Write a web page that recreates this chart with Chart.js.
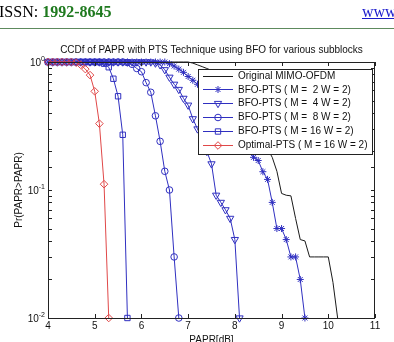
<!DOCTYPE html>
<html>
<head>
<meta charset="utf-8">
<script src="https://cdn.jsdelivr.net/npm/chart.js@4/dist/chart.umd.min.js"></script>
<style>
  html, body { margin:0; padding:0; background:#fff; width:394px; height:342px; overflow:hidden; }
  #wrap { position:relative; width:394px; height:342px; }
  canvas { position:absolute; left:0; top:0; }
  .hdr { position:absolute; top:2px; font-family:"Liberation Serif","Times New Roman",serif; font-size:16px; line-height:20px; white-space:nowrap; }
  #issn { left:-1px; color:#000; }
  #issn b { color:#1f7a1f; }
  #www { left:362px; color:#1a1acc; text-decoration:underline; }
  #rule { position:absolute; left:0; top:28px; width:394px; height:1px; background:#5d8a5d; }
</style>
</head>
<body>
<div id="wrap">
  <canvas id="c" width="394" height="342"></canvas>
  <div class="hdr" id="issn">ISSN: <b>1992-8645</b></div>
  <div class="hdr" id="www">www</div>
  <div id="rule"></div>
</div>
<script>
// ---- data ----
const papr = [4.0,4.1,4.2,4.3,4.4,4.5,4.6,4.7,4.8,4.9,
              5.0,5.1,5.2,5.3,5.4,5.5,5.6,5.7,5.8,5.9,
              6.0,6.1,6.2,6.3,6.4,6.5,6.6,6.7,6.8,6.9,
              7.0,7.1,7.2,7.3,7.4,7.5,7.6,7.7,7.8,7.9,
              8.0,8.1,8.2,8.3,8.4,8.5,8.6,8.7,8.8,8.9,
              9.0,9.1,9.2,9.3,9.4,9.5,9.6,9.7,9.8,9.9,
              10.0,10.1,10.2];

const original = [1,1,1,1,1,1,1,1,1,1,
                  1,1,1,1,1,1,1,1,1,1,
                  1,1,1,1,1,1,1,1,1,1,
                  1,0.98,0.95,0.92,0.89,0.86,0.81,0.76,0.71,0.65,
                  0.59,0.53,0.47,0.41,0.35,0.30,0.25,0.21,0.18,0.14,
                  0.094,0.091,0.09,0.06,0.041,0.04,0.03,0.03,0.03,0.03,
                  0.03,0.019,0.01];

const bfoM2 = [1,1,1,1,1,1,1,1,1,1,
               1,1,1,1,1,1,1,1,1,1,
               1,1,1,1,1,1,0.97,0.93,0.88,0.83,
               0.77,0.72,0.67,0.61,0.56,0.50,0.45,0.40,0.36,0.32,
               0.28,0.25,0.22,0.20,0.18,0.17,0.139,0.121,0.08,0.05,
               0.05,0.041,0.03,0.03,0.02,0.01,null,null,null,null,
               null,null,null];

const bfoM4 = [1,1,1,1,1,1,1,1,1,1,
               1,1,1,1,1,1,1,1,1,1,
               1,1,1,0.98,0.95,0.87,0.76,0.67,0.61,0.52,
               0.46,0.36,0.30,0.25,0.20,0.16,0.091,0.08,0.07,0.06,
               0.041,0.01,null,null,null,null,null,null,null,null,
               null,null,null,null,null,null,null,null,null,null,
               null,null,null];

const bfoM8 = [1,1,1,1,1,1,1,1,1,1,
               1,1,1,1,1,1,1,0.99,0.96,0.89,
               0.84,0.69,0.58,0.38,0.24,0.14,0.10,0.03,0.01,null,
               null,null,null,null,null,null,null,null,null,null,
               null,null,null,null,null,null,null,null,null,null,
               null,null,null,null,null,null,null,null,null,null,
               null,null,null];

const bfoM16 = [1,1,1,1,1,1,1,1,1,1,
                1,1,0.97,0.91,0.74,0.54,0.27,0.01,null,null,
                null,null,null,null,null,null,null,null,null,null,
                null,null,null,null,null,null,null,null,null,null,
                null,null,null,null,null,null,null,null,null,null,
                null,null,null,null,null,null,null,null,null,null,
                null,null,null];

const optimalM16 = [1,1,1,1,1,1,0.99,0.95,0.88,0.79,
                    0.59,0.33,0.111,0.01,null,null,null,null,null,null,
                    null,null,null,null,null,null,null,null,null,null,
                    null,null,null,null,null,null,null,null,null,null,
                    null,null,null,null,null,null,null,null,null,null,
                    null,null,null,null,null,null,null,null,null,null,
                    null,null,null];

const seriesNames = ['Original MIMO-OFDM',
                     'BFO-PTS ( M =  2 W = 2)',
                     'BFO-PTS ( M =  4 W = 2)',
                     'BFO-PTS ( M =  8 W = 2)',
                     'BFO-PTS ( M = 16 W = 2)',
                     'Optimal-PTS ( M = 16 W = 2)'];
const xTicks = [4,5,6,7,8,9,10,11];
const yDecades = [1, 0.1, 0.01];
const yExponents = ['0', '-1', '-2'];
const chartTitle = 'CCDf of PAPR with PTS Technique using BFO for various subblocks';
const xTitle = 'PAPR[dB]';
const yTitle = 'Pr(PAPR>PAPR)';

// ---- styling ----
const FONT = '"Liberation Sans", Arial, Helvetica, sans-serif';
const BLUE = '#2f2fc0';
const RED = '#e04848';
const BLACK = '#1a1a1a';

function pts(ys) {
  return papr.map((x, i) => ({ x: x, y: ys[i] }));
}

const styles = [
  { color: BLACK, pointStyle: false, radius: 0, rotation: 0 },
  { color: BLUE, pointStyle: 'star', radius: 3.5, rotation: 0 },
  { color: BLUE, pointStyle: 'triangle', radius: 4.2, rotation: 180 },
  { color: BLUE, pointStyle: 'circle', radius: 3.3, rotation: 0 },
  { color: BLUE, pointStyle: 'rect', radius: 3.8, rotation: 0 },
  { color: RED, pointStyle: 'rectRot', radius: 3.8, rotation: 0 }
];
const seriesData = [original, bfoM2, bfoM4, bfoM8, bfoM16, optimalM16];

const datasets = seriesData.map((ys, i) => ({
  label: seriesNames[i],
  data: pts(ys),
  borderColor: styles[i].color,
  backgroundColor: 'transparent',
  borderWidth: 1,
  pointStyle: styles[i].pointStyle,
  pointRadius: styles[i].radius,
  pointRotation: styles[i].rotation,
  pointBorderColor: styles[i].color,
  pointBackgroundColor: 'transparent',
  pointBorderWidth: 1,
  tension: 0,
  spanGaps: false,
  clip: false,
  order: 6 - i
}));

const decor = {
  id: 'decor',
  afterDatasetsDraw(chart) {
    const ctx = chart.ctx;
    const a = chart.chartArea;
    const xs = chart.scales.x, ys = chart.scales.y;
    ctx.save();
    // axes box
    ctx.strokeStyle = '#222';
    ctx.lineWidth = 1;
    ctx.strokeRect(Math.round(a.left) + 0.5, Math.round(a.top) + 0.5,
                   Math.round(a.right - a.left) - 1, Math.round(a.bottom - a.top));
    // inward ticks
    const tl = 4;
    ctx.beginPath();
    xs.ticks.forEach(t => {
      const px = Math.round(xs.getPixelForValue(t.value)) + 0.5;
      ctx.moveTo(px, a.bottom); ctx.lineTo(px, a.bottom - tl);
      ctx.moveTo(px, a.top); ctx.lineTo(px, a.top + tl);
    });
    ys.ticks.forEach(t => {
      const py = Math.round(ys.getPixelForValue(t.value)) + 0.5;
      ctx.moveTo(a.left, py); ctx.lineTo(a.left + tl, py);
      ctx.moveTo(a.right, py); ctx.lineTo(a.right - tl, py);
    });
    ctx.stroke();

    // legend box
    const L = 198.5, T = 69.5, W = 174, H = 85;
    ctx.fillStyle = '#fff';
    ctx.fillRect(L, T, W, H);
    ctx.strokeStyle = '#222';
    ctx.strokeRect(L, T, W, H);
    ctx.font = '10px ' + FONT;
    ctx.textBaseline = 'middle';
    ctx.textAlign = 'left';
    seriesNames.forEach((name, i) => {
      const y = 75.5 + i * 13.85;
      const st = styles[i];
      ctx.strokeStyle = st.color;
      ctx.lineWidth = 1;
      ctx.beginPath();
      ctx.moveTo(203, Math.round(y) + 0.5);
      ctx.lineTo(233, Math.round(y) + 0.5);
      ctx.stroke();
      if (st.pointStyle) {
        ctx.fillStyle = 'transparent';
        Chart.helpers.drawPoint(ctx, {
          pointStyle: st.pointStyle, rotation: st.rotation,
          radius: st.radius, borderWidth: 1
        }, 218, Math.round(y) + 0.5);
      }
      ctx.fillStyle = '#111';
      ctx.fillText(name, 238, y + 0.5);
    });
    ctx.restore();
  },
  afterDraw(chart) {
    const ctx = chart.ctx;
    const a = chart.chartArea;
    const ys = chart.scales.y;
    ctx.save();
    ctx.fillStyle = '#111';
    // main title
    ctx.font = '10px ' + FONT;
    ctx.textAlign = 'center';
    ctx.textBaseline = 'middle';
    ctx.fillText(chartTitle, (a.left + a.right) / 2, 50);
    // y decade labels with superscript
    yDecades.forEach((v, i) => {
      const py = ys.getPixelForValue(v);
      ctx.font = '7px ' + FONT;
      ctx.textAlign = 'right';
      ctx.textBaseline = 'alphabetic';
      const expW = ctx.measureText(yExponents[i]).width;
      ctx.fillText(yExponents[i], 45, py - 1);
      ctx.font = '10px ' + FONT;
      ctx.fillText('10', 45 - expW, py + 4);
    });
    ctx.restore();
  }
};

new Chart(document.getElementById('c'), {
  type: 'line',
  data: { datasets: datasets },
  options: {
    responsive: false,
    animation: false,
    events: [],
    layout: { padding: { top: 62, left: 0, right: 19, bottom: 0 } },
    scales: {
      x: {
        type: 'linear', min: 4, max: 11,
        afterBuildTicks(s) { s.ticks = xTicks.map(v => ({ value: v })); },
        ticks: { font: { family: FONT, size: 10 }, color: '#111', padding: 2, maxRotation: 0, autoSkip: false },
        grid: { display: false, drawTicks: false },
        border: { display: false },
        title: { display: true, text: xTitle, color: '#111', font: { family: FONT, size: 10 }, padding: { top: -4, bottom: -4 } },
        afterFit(s) { s.height = 24; }
      },
      y: {
        type: 'logarithmic', min: 0.01, max: 1,
        ticks: { display: false },
        grid: { display: false, drawTicks: false },
        border: { display: false },
        title: { display: true, text: yTitle, color: '#111', font: { family: FONT, size: 10 }, padding: { top: 13, bottom: 13 } },
        afterFit(s) { s.width = 48; }
      }
    },
    plugins: {
      legend: { display: false },
      title: { display: false },
      tooltip: { enabled: false }
    }
  },
  plugins: [decor]
});
</script>
</body>
</html>
